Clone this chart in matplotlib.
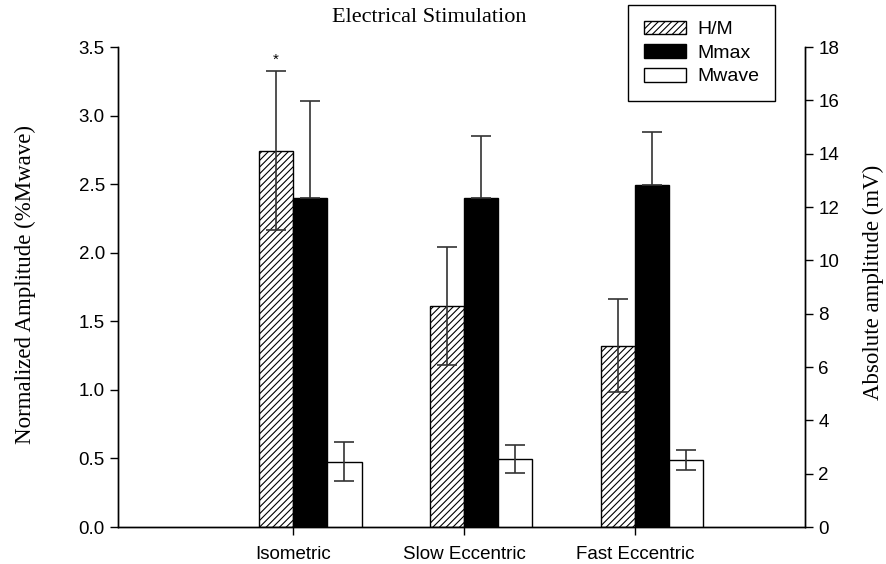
import numpy as np
import matplotlib
matplotlib.use("Agg")
import matplotlib.pyplot as plt
from matplotlib.patches import Patch

categories = ["Isometric", "Slow Eccentric", "Fast Eccentric"]

# left axis (normalized)
hm = [2.745, 1.614, 1.322]
hm_err = [0.58, 0.43, 0.34]

# right axis (mV)
mmax = [12.35, 12.32, 12.81]
mmax_err = [3.62, 2.35, 2.0]
mwave = [2.45, 2.55, 2.51]
mwave_err = [0.74, 0.52, 0.39]

plt.rcParams["font.family"] = ["Liberation Sans", "DejaVu Sans"]
plt.rcParams["hatch.linewidth"] = 0.8

fig = plt.figure(figsize=(8.87, 5.64), dpi=100)
ax = fig.add_axes([118/887, 1-527/564, (805-118)/887, (527-47)/564])
ax2 = ax.twinx()

x = np.arange(1, len(categories) + 1)
w = 0.2
ekw = dict(ecolor="0.2", elinewidth=1.2, capsize=7, capthick=1.2)

ax.bar(x - w/2, hm, w, yerr=hm_err, color="white", edgecolor="black",
       hatch="/////", linewidth=1, error_kw=ekw)
ax2.bar(x + w/2, mmax, w, yerr=[[0]*3, mmax_err], color="black",
        edgecolor="black", linewidth=1, error_kw=ekw)
ax2.bar(x + 3*w/2, mwave, w, yerr=mwave_err, color="white",
        edgecolor="black", linewidth=1, error_kw=ekw)

ax.text(x[0] - w/2, hm[0] + hm_err[0] + 0.03, "*", ha="center", va="bottom",
        fontsize=11)

ax.set_xlim(-0.025, 3.995)
ax.set_ylim(0, 3.5)
ax2.set_ylim(0, 18)
ax.set_xticks(x)
ax.set_xticklabels(categories)
ax.set_yticks(np.arange(0, 3.51, 0.5))
ax.set_yticklabels([f"{v:.1f}" for v in np.arange(0, 3.51, 0.5)])
ax2.set_yticks(np.arange(0, 19, 2))

for a in (ax, ax2):
    a.spines["top"].set_visible(False)
    for s in a.spines.values():
        s.set_linewidth(1)
    a.tick_params(labelsize=13.5, length=6, width=1, direction="out")
ax.tick_params(axis="x", pad=8)

ax.set_ylabel("Normalized Amplitude (%Mwave)", family="Liberation Serif",
              fontsize=16.5)
ax.yaxis.set_label_coords((36-118)/687, 0.505)
ax2.set_ylabel("Absolute amplitude (mV)", family="Liberation Serif",
               fontsize=16.5)
ax2.yaxis.set_label_coords((863-118)/687, 0.51)

fig.text(429/887, 1-18/564, "Electrical Stimulation", ha="center", va="center",
         family="Liberation Serif", fontsize=16)

handles = [
    Patch(facecolor="white", edgecolor="black", hatch="/////", label="H/M"),
    Patch(facecolor="black", edgecolor="black", label="Mmax"),
    Patch(facecolor="white", edgecolor="black", label="Mwave"),
]
leg = fig.legend(handles=handles, loc="upper left",
                 bbox_to_anchor=(628/887, 1-5/564), fontsize=14,
                 fancybox=False, edgecolor="black", framealpha=1,
                 handlelength=2.2, handleheight=0.72, labelspacing=0.3,
                 borderpad=0.8, handletextpad=0.55, borderaxespad=0)
leg.get_frame().set_linewidth(1)

fig.savefig("out.png", dpi=100)
